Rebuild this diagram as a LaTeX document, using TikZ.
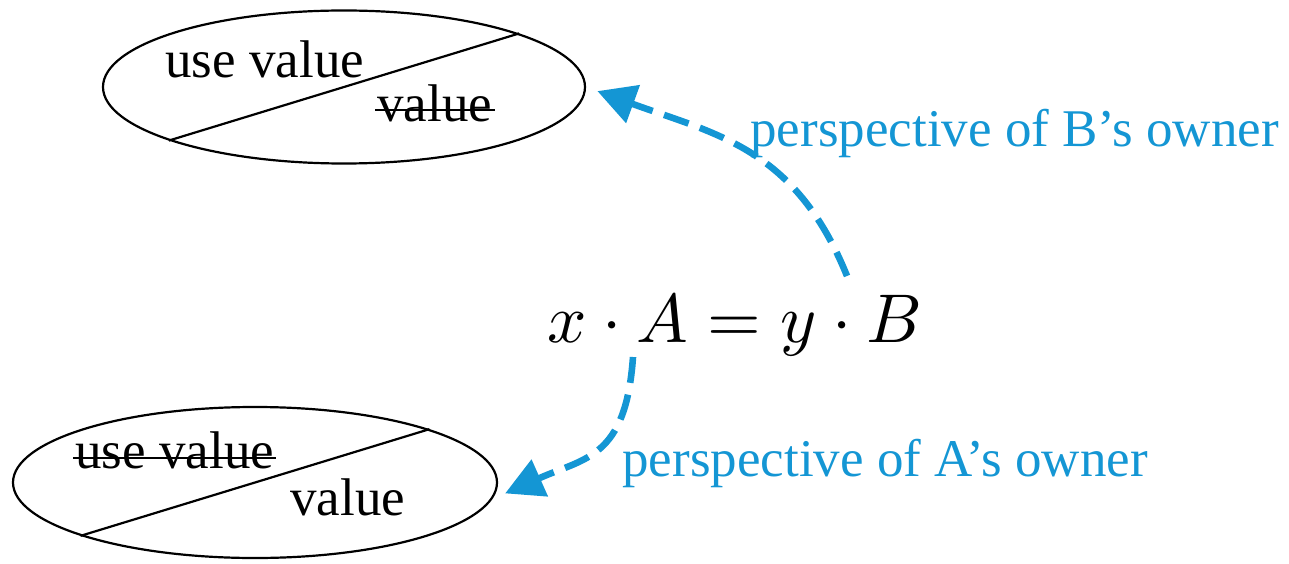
\documentclass[tikz,border=0pt]{standalone}
\usepackage{graphicx}
\usepackage{fontspec}
\setmainfont{Liberation Serif}
\usetikzlibrary{shapes.geometric,arrows.meta}
\definecolor{perspblue}{RGB}{20,150,212}

\begin{document}
\begin{tikzpicture}[x=0.5pt, y=0.5pt]
    \tikzstyle{valell} = [ellipse, draw, line width=1.1pt, minimum width=241pt, minimum height=76.5pt, inner sep=0pt]
    \tikzstyle{lbl} = [anchor=base west, inner sep=0pt, font=\fontsize{26.5}{30}\selectfont]
    \tikzstyle{strike} = [line width=1.1pt]
    \tikzstyle{persp} = [perspblue, line width=3.3pt, dash pattern=on 13pt off 6pt, -{Triangle[length=19pt,width=19.5pt]}]

    \useasboundingbox (0,0) rectangle (1289,563);

    \node [valell] (topval) at (344,476) {};
    \node [valell, minimum width=242pt, minimum height=75.5pt] (botval) at (255,80.5) {};
    \draw [line width=1.1pt] (topval.17.5) -- (topval.197.5);
    \draw [line width=1.1pt] (botval.17.5) -- (botval.197.5);

    \node [lbl] (topuse) at (165,485) {use value};
    \node [lbl] (topv) at (377,441) {value};
    \node [lbl] (botuse) at (75,95) {use value};
    \node [lbl] (botv) at (290,48) {value};
    % crossed out words
    \draw [strike] ([shift={(-1pt,6pt)}]topv.base west) -- ([shift={(1pt,6pt)}]topv.base east);
    \draw [strike] ([shift={(-1pt,5pt)}]botuse.base west) -- ([shift={(1pt,5pt)}]botuse.base east);

    \node [lbl, font=\fontsize{10}{12}\selectfont] (eq) at (547,221) {\scalebox{3.45}{$x\cdot A=y\cdot B$}};

    \node [lbl, perspblue] (bown) at (750,416) {perspective of B's owner};
    \node [lbl, perspblue] (aown) at (622,87) {perspective of A's owner};

    \coordinate (bfrom) at (847,287);
    \coordinate (afrom) at (633,206);
    \draw [persp, shorten >=6pt] (bfrom) to[out=112, in=-20, looseness=1.1] (topval.east);
    \draw [persp, shorten >=7pt] (afrom) to[out=-94, in=24, looseness=1.3] (botval.-4);
\end{tikzpicture}
\end{document}
